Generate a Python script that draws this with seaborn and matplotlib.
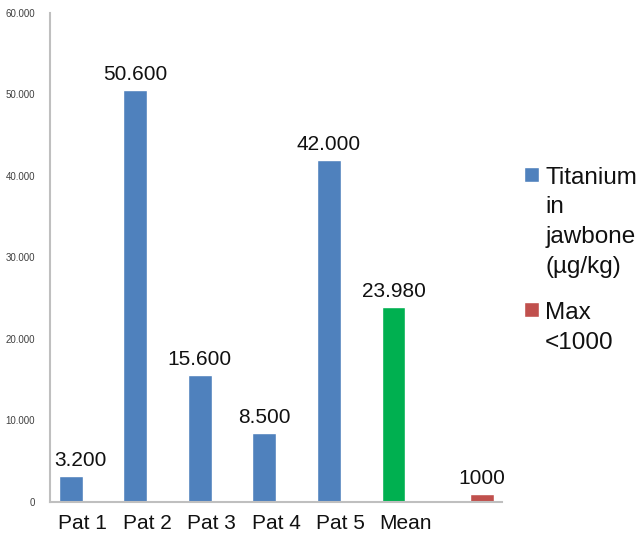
import matplotlib.pyplot as plt
import matplotlib.ticker as ticker
import pandas as pd
import seaborn as sns

categories = ["Pat 1", "Pat 2", "Pat 3", "Pat 4", "Pat 5", "Mean", ""]
series = ["Titanium", "Titanium", "Titanium", "Titanium", "Titanium", "Titanium", "Max"]
values = [3200, 50600, 15600, 8500, 42000, 23980, 1000]
value_labels = ["3.200", "50.600", "15.600", "8.500", "42.000", "23.980", "1000"]
legend_labels = ["Titanium\nin\njawbone\n(µg/kg)", "Max\n<1000"]

blue = "#4F81BD"
green = "#00B050"
red = "#C0504D"

df = pd.DataFrame({"category": categories, "series": series, "value": values})

sns.set_style("white")
plt.rcParams["font.family"] = ["Liberation Sans", "DejaVu Sans"]

fig = plt.figure(figsize=(6.44, 5.38), dpi=100)
ax = fig.add_axes([0.078, 0.067, 0.702, 0.909])

sns.barplot(
    data=df,
    x="category",
    y="value",
    hue="series",
    hue_order=["Titanium", "Max"],
    order=categories,
    palette=[blue, red],
    dodge=True,
    width=0.74,
    saturation=1,
    ax=ax,
)

# color the mean bar green and write values above the bars
bars = [p for p in ax.patches if p.get_height() > 0]
bars.sort(key=lambda p: p.get_x())
for i, (p, lab, cat) in enumerate(zip(bars, value_labels, categories)):
    if cat == "Mean":
        p.set_facecolor(green)
    # first label is pushed right, clear of the y axis
    dx = 7 if i == 0 else 0
    ax.annotate(
        lab,
        (p.get_x() + p.get_width() / 2, p.get_height()),
        xytext=(dx, 4),
        textcoords="offset points",
        ha="center",
        va="bottom",
        fontsize=15,
        color="#111111",
    )

ax.set_xticks(range(len(categories)))
ax.set_xticklabels(categories, fontsize=15, color="#111111")

ax.set_ylim(0, 60000)
ax.set_xlim(-0.5, len(categories) - 0.5)
ax.yaxis.set_major_locator(ticker.MultipleLocator(10000))
ax.yaxis.set_major_formatter(
    ticker.FuncFormatter(lambda v, pos: f"{int(v):,}".replace(",", "."))
)
ax.tick_params(axis="y", labelsize=7, labelcolor="#404040", length=0, pad=11)
ax.tick_params(axis="x", length=0, pad=9)
ax.set_xlabel("")
ax.set_ylabel("")

for side in ["top", "right"]:
    ax.spines[side].set_visible(False)
for side in ["left", "bottom"]:
    ax.spines[side].set_color("#BFBFBF")
    ax.spines[side].set_linewidth(1.5)

handles, _ = ax.get_legend_handles_labels()
leg = ax.legend(
    handles,
    legend_labels,
    loc="upper left",
    bbox_to_anchor=(0.813, 0.69),
    bbox_transform=fig.transFigure,
    frameon=False,
    fontsize=17.5,
    borderpad=0,
    borderaxespad=0,
    handlelength=0.64,
    handleheight=0.57,
    handletextpad=0.25,
    labelspacing=1.0,
)
for t in leg.get_texts():
    t.set_linespacing(1.45)
    t.set_color("#111111")
# keep each legend square next to the first line of its label
for column in leg._legend_handle_box.get_children():
    for entry in column.get_children():
        entry.align = "top"

fig.savefig("out.png", dpi=100)
